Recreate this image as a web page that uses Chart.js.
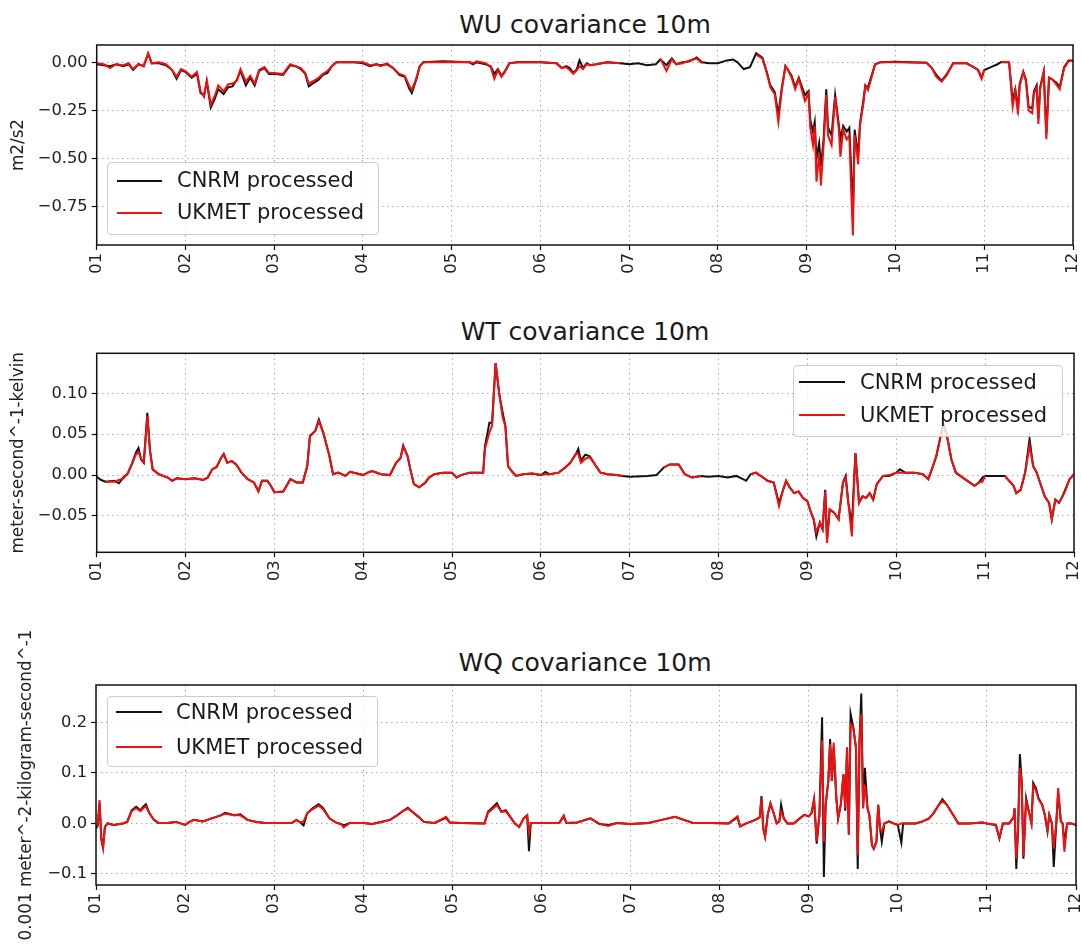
<!DOCTYPE html>
<html><head><meta charset="utf-8">
<script src="https://cdn.jsdelivr.net/npm/chart.js@4"></script>
<style>
html,body{margin:0;padding:0;background:#fff;}
body{width:1081px;height:946px;position:relative;overflow:hidden;font-family:'DejaVu Sans',sans-serif;}
.wrap{position:absolute;left:0;width:1081px;}
.title{position:absolute;font-size:25px;line-height:25px;color:#1a1a1a;white-space:nowrap;transform:translateX(-50%);}
.lgbox{position:absolute;border:1px solid #cccccc;border-radius:4px;background:rgba(255,255,255,0.8);box-sizing:border-box;}
.lgline{position:absolute;height:2px;}
.lgtext{position:absolute;font-size:21px;line-height:21px;color:#1a1a1a;white-space:nowrap;}
</style></head><body>
<div class="title" style="left:585px;top:12px;">WU covariance 10m</div>
<div class="title" style="left:585px;top:319px;">WT covariance 10m</div>
<div class="title" style="left:585px;top:650px;">WQ covariance 10m</div>
<div class="wrap" style="top:0;height:300px;"><canvas id="c1"></canvas></div>
<div class="wrap" style="top:300px;height:300px;"><canvas id="c2"></canvas></div>
<div class="wrap" style="top:600px;height:346px;"><canvas id="c3"></canvas></div>

<div class="lgbox" style="left:107px;top:162px;width:272px;height:73px;"></div>
<div class="lgline" style="left:117px;top:180px;width:45px;background:#111;"></div>
<div class="lgline" style="left:117px;top:212px;width:45px;background:#f01010;"></div>
<div class="lgtext" style="left:177px;top:169.5px;">CNRM processed</div>
<div class="lgtext" style="left:177px;top:202px;">UKMET processed</div>

<div class="lgbox" style="left:793px;top:365px;width:270px;height:72px;"></div>
<div class="lgline" style="left:799px;top:381px;width:46px;background:#111;"></div>
<div class="lgline" style="left:799px;top:414px;width:46px;background:#f01010;"></div>
<div class="lgtext" style="left:860px;top:371.5px;">CNRM processed</div>
<div class="lgtext" style="left:860px;top:405px;">UKMET processed</div>

<div class="lgbox" style="left:107px;top:696px;width:271px;height:71px;"></div>
<div class="lgline" style="left:116px;top:711px;width:46px;background:#111;"></div>
<div class="lgline" style="left:116px;top:746px;width:46px;background:#f01010;"></div>
<div class="lgtext" style="left:176px;top:702px;">CNRM processed</div>
<div class="lgtext" style="left:176px;top:737px;">UKMET processed</div>

<script>
// ---------- axis ticks ----------
const DAY_TICKS = [1,2,3,4,5,6,7,8,9,10,11,12];
const DAY_LABELS = ['01','02','03','04','05','06','07','08','09','10','11','12'];
const WU_TICKS = [0.00,-0.25,-0.50,-0.75];
const WU_LABELS = ['0.00','\u22120.25','\u22120.50','\u22120.75'];
const WT_TICKS = [0.10,0.05,0.00,-0.05];
const WT_LABELS = ['0.10','0.05','0.00','\u22120.05'];
const WQ_TICKS = [0.2,0.1,0.0,-0.1];
const WQ_LABELS = ['0.2','0.1','0.0','\u22120.1'];

// ---------- WU covariance ----------
const wuDays = [1.00,1.08,1.15,1.22,1.30,1.36,1.41,1.47,1.53,1.58,1.62,1.70,1.78,1.85,1.90,1.95,
2.00,2.07,2.13,2.17,2.21,2.24,2.285,2.33,2.37,2.43,2.48,2.53,2.58,2.62,2.68,2.73,2.78,2.83,2.89,2.94,
3.00,3.10,3.18,3.24,3.30,3.35,3.39,3.45,3.50,3.55,3.60,3.65,3.70,3.90,
4.00,4.08,4.15,4.20,4.27,4.34,4.41,4.47,4.52,4.55,4.60,4.64,4.68,4.90,
5.20,5.24,5.28,5.38,5.44,5.48,5.52,5.56,5.60,5.65,5.75,
6.00,6.18,6.24,6.29,6.33,6.37,6.41,6.44,6.48,6.52,6.56,6.63,6.75,6.90,
7.00,7.10,7.20,7.30,7.35,7.42,7.48,7.53,7.60,7.68,7.76,7.82,7.90,
8.00,8.10,8.17,8.22,8.29,8.36,8.43,8.50,8.55,8.59,8.64,8.68,8.72,8.76,8.79,8.83,8.87,8.91,8.94,8.98,
9.02,9.04,9.07,9.09,9.11,9.14,9.16,9.19,9.22,9.24,9.28,9.32,9.36,9.38,9.41,9.45,9.48,9.50,9.52,9.54,9.56,9.58,9.60,9.64,9.66,9.69,9.73,9.77,9.83,
10.00,10.35,10.41,10.46,10.52,10.58,10.65,10.80,10.88,10.93,10.97,
11.00,11.05,11.10,11.15,11.19,11.28,11.30,11.32,11.35,11.38,11.40,11.44,11.47,11.50,11.54,11.56,11.59,11.61,11.63,11.67,11.70,11.73,11.77,11.82,11.85,11.90,11.95,12.00];
const wuCNRM = [-0.010,-0.015,-0.020,-0.010,-0.020,-0.010,-0.040,-0.010,-0.020,0.045,-0.005,-0.005,-0.015,-0.040,-0.085,-0.040,
-0.050,-0.080,-0.060,-0.160,-0.170,-0.100,-0.235,-0.190,-0.140,-0.165,-0.130,-0.125,-0.090,-0.045,-0.120,-0.080,-0.120,-0.045,-0.030,-0.060,
-0.060,-0.065,-0.015,-0.020,-0.035,-0.060,-0.125,-0.105,-0.090,-0.065,-0.055,-0.020,0.000,0.000,
-0.005,-0.020,-0.010,-0.015,-0.010,-0.030,-0.065,-0.075,-0.135,-0.160,-0.090,-0.020,0.000,0.005,
0.000,-0.010,0.000,-0.010,-0.020,-0.060,-0.035,-0.070,-0.045,-0.005,0.002,
0.000,-0.005,-0.030,-0.020,-0.030,-0.055,-0.035,0.010,-0.030,-0.005,-0.015,-0.010,0.000,-0.005,
-0.010,-0.005,-0.015,-0.010,0.015,-0.015,0.020,-0.010,0.000,0.005,0.025,0.000,-0.005,
-0.005,0.010,0.015,0.000,-0.035,-0.025,0.047,0.025,-0.050,-0.120,-0.155,-0.270,-0.130,-0.020,-0.040,-0.070,-0.130,-0.080,-0.120,-0.170,
-0.150,-0.300,-0.360,-0.310,-0.500,-0.420,-0.540,-0.400,-0.140,-0.340,-0.380,-0.170,-0.320,-0.400,-0.330,-0.360,-0.340,-0.550,-0.800,-0.350,-0.420,-0.470,-0.320,-0.190,-0.120,-0.130,-0.070,-0.010,0.000,
0.003,-0.002,-0.030,-0.065,-0.095,-0.060,-0.005,-0.005,-0.025,-0.040,-0.080,
-0.040,-0.030,-0.020,-0.010,0.002,0.000,-0.100,-0.200,-0.140,-0.240,-0.110,-0.050,-0.090,-0.230,-0.240,-0.150,-0.120,-0.290,-0.130,-0.050,-0.370,-0.080,-0.090,-0.110,-0.130,-0.025,0.010,0.010];
const wuUKMET = [-0.005,-0.010,-0.030,-0.010,-0.015,-0.005,-0.035,-0.010,-0.020,0.047,-0.005,0.000,-0.010,-0.040,-0.075,-0.035,
-0.045,-0.075,-0.050,-0.150,-0.180,-0.095,-0.220,-0.175,-0.120,-0.150,-0.115,-0.110,-0.095,-0.035,-0.100,-0.070,-0.110,-0.040,-0.025,-0.055,
-0.055,-0.060,-0.010,-0.020,-0.030,-0.055,-0.110,-0.095,-0.080,-0.060,-0.045,-0.020,0.000,0.000,
0.000,-0.015,-0.010,-0.020,-0.005,-0.030,-0.060,-0.070,-0.120,-0.145,-0.085,-0.020,0.000,0.000,
0.002,-0.005,0.005,-0.005,-0.025,-0.085,-0.040,-0.075,-0.050,-0.005,0.000,
0.000,-0.005,-0.030,-0.025,-0.040,-0.060,-0.040,-0.020,-0.035,-0.010,-0.015,-0.010,0.000,-0.005,
null,null,null,null,0.020,-0.045,0.015,-0.010,-0.005,0.010,0.020,-0.005,null,
null,null,null,null,null,null,0.040,0.020,-0.055,-0.130,-0.165,-0.310,-0.140,-0.020,-0.040,-0.080,-0.140,-0.085,-0.135,-0.200,
-0.160,-0.340,-0.430,-0.330,-0.620,-0.470,-0.640,-0.430,-0.170,-0.380,-0.430,-0.180,-0.340,-0.490,-0.350,-0.400,-0.380,-0.650,-0.900,-0.380,-0.450,-0.530,-0.330,-0.210,-0.120,-0.145,-0.080,-0.010,0.000,
0.000,-0.002,-0.030,-0.075,-0.100,-0.065,-0.005,-0.005,-0.025,-0.040,-0.085,
-0.040,null,null,null,0.003,0.000,-0.110,-0.230,-0.150,-0.270,-0.120,-0.050,-0.100,-0.250,-0.265,-0.160,-0.130,-0.320,-0.140,-0.050,-0.400,-0.080,-0.090,-0.120,-0.140,-0.030,0.005,0.010];

// ---------- WT covariance ----------
const wtDays = [1.00,1.05,1.10,1.20,1.25,1.30,1.35,1.40,1.44,1.47,1.50,1.53,1.57,1.60,1.63,1.70,1.80,1.85,1.90,
2.00,2.10,2.20,2.25,2.30,2.35,2.40,2.43,2.47,2.52,2.57,2.63,2.70,2.77,2.82,2.86,2.92,2.96,
3.00,3.10,3.18,3.25,3.32,3.37,3.40,3.46,3.50,3.55,3.62,3.66,3.72,3.80,3.85,
4.00,4.05,4.10,4.20,4.30,4.37,4.42,4.45,4.50,4.53,4.57,4.63,4.70,4.74,4.80,4.90,
5.00,5.05,5.10,5.20,5.35,5.37,5.42,5.45,5.49,5.53,5.57,5.60,5.63,5.67,5.72,5.80,5.90,
6.00,6.05,6.10,6.20,6.27,6.33,6.40,6.42,6.45,6.50,6.55,6.62,6.67,6.75,6.85,6.92,
7.00,7.20,7.30,7.38,7.45,7.55,7.62,7.70,7.80,7.88,
8.00,8.10,8.20,8.31,8.36,8.42,8.50,8.55,8.62,8.68,8.72,8.76,8.80,8.85,8.90,8.95,
9.00,9.04,9.07,9.10,9.14,9.17,9.20,9.22,9.25,9.30,9.35,9.40,9.43,9.46,9.50,9.54,9.58,9.62,9.66,9.70,9.74,9.78,9.85,9.92,
10.00,10.04,10.10,10.20,10.30,10.36,10.40,10.45,10.50,10.53,10.57,10.62,10.67,10.72,10.80,10.88,10.93,10.97,
11.00,11.10,11.20,11.22,11.32,11.35,11.40,11.45,11.50,11.54,11.58,11.63,11.67,11.72,11.75,11.79,11.83,11.87,11.90,11.95,12.00];
const wtCNRM = [-0.002,-0.006,-0.008,-0.007,-0.010,-0.003,0.002,0.015,0.027,0.033,0.019,0.015,0.076,0.030,0.007,0.001,-0.003,-0.007,-0.004,
-0.005,-0.004,-0.006,-0.003,0.007,0.010,0.021,0.026,0.015,0.017,0.013,0.003,-0.005,-0.009,-0.020,-0.007,-0.007,-0.013,
-0.021,-0.020,-0.005,-0.009,-0.009,0.011,0.048,0.054,0.068,0.052,0.023,0.001,0.003,-0.001,0.004,
0.000,0.003,0.005,0.001,0.000,0.015,0.021,0.036,0.023,0.007,-0.011,-0.015,-0.009,-0.003,0.001,0.003,
0.003,-0.003,0.000,0.003,0.003,0.035,0.064,0.064,0.137,0.100,0.076,0.060,0.011,0.005,-0.001,0.001,0.002,
0.000,0.004,0.001,0.003,0.009,0.015,0.027,0.032,0.018,0.025,0.023,0.011,0.003,0.001,0.000,-0.001,
-0.002,-0.001,0.000,0.009,0.013,0.013,0.001,-0.003,-0.001,-0.002,
-0.001,-0.003,-0.001,-0.007,0.001,0.003,-0.003,-0.007,-0.009,-0.034,-0.020,-0.007,-0.015,-0.022,-0.020,-0.028,
-0.032,-0.046,-0.054,-0.075,-0.058,-0.066,-0.018,-0.079,-0.042,-0.046,-0.054,-0.009,-0.001,-0.034,-0.060,0.027,-0.034,-0.026,-0.028,-0.022,-0.030,-0.011,-0.001,-0.001,
0.003,0.007,0.003,0.003,0.001,-0.005,0.007,0.023,0.048,0.062,0.048,0.019,0.003,-0.001,-0.007,-0.013,-0.009,-0.003,
-0.001,-0.001,-0.001,-0.001,-0.013,-0.022,-0.018,0.003,0.044,0.011,0.003,-0.013,-0.026,-0.034,-0.054,-0.030,-0.034,-0.026,-0.018,-0.005,0.001];
const wtUKMET = [null,null,-0.008,-0.008,-0.006,-0.004,0.002,0.014,0.025,0.028,0.020,0.016,0.072,0.030,0.007,0.001,-0.003,-0.007,-0.004,
-0.005,-0.004,-0.006,-0.003,0.007,0.010,0.021,0.025,0.015,0.017,0.013,0.003,-0.005,-0.009,-0.020,-0.007,-0.007,-0.013,
-0.021,-0.020,-0.005,-0.009,-0.009,0.011,0.047,0.054,0.066,0.052,0.023,0.001,0.003,-0.001,0.004,
0.000,0.003,0.005,0.001,0.000,0.015,0.021,0.035,0.023,0.007,-0.011,-0.015,-0.009,-0.003,0.001,0.003,
0.003,-0.003,0.000,0.003,0.003,0.032,0.052,0.060,0.137,0.100,0.070,0.060,0.011,0.005,-0.001,0.001,0.002,
0.000,0.001,0.001,0.003,0.009,0.015,0.027,0.026,0.015,0.020,0.022,0.011,0.003,0.001,0.000,-0.001,
null,null,null,0.009,0.013,0.013,0.001,-0.003,-0.001,null,
null,null,null,null,0.001,0.003,-0.003,-0.007,-0.009,-0.038,-0.020,-0.007,-0.015,-0.022,-0.020,-0.028,
-0.032,-0.046,-0.054,-0.070,-0.058,-0.066,-0.020,-0.083,-0.042,-0.046,-0.054,-0.009,-0.003,-0.034,-0.075,0.027,-0.034,-0.026,-0.028,-0.022,-0.030,-0.011,-0.001,0.000,
0.003,0.003,0.003,0.003,0.001,-0.005,0.007,0.023,0.048,0.064,0.048,0.019,0.003,-0.001,-0.007,-0.013,-0.009,-0.008,
-0.001,null,null,-0.001,-0.013,-0.022,-0.018,0.003,0.036,0.011,0.003,-0.013,-0.026,-0.034,-0.054,-0.030,-0.034,-0.026,-0.020,-0.005,0.001];

// ---------- WQ covariance ----------
const wqDays = [1.00,1.02,1.04,1.06,1.08,1.10,1.13,1.20,1.30,1.35,1.40,1.45,1.50,1.53,1.56,1.60,1.65,1.70,1.80,1.90,
2.00,2.05,2.10,2.20,2.30,2.40,2.45,2.55,2.62,2.70,2.80,2.90,
3.20,3.25,3.30,3.33,3.37,3.43,3.50,3.55,3.62,3.70,3.75,3.78,3.85,
4.00,4.10,4.20,4.30,4.38,4.45,4.50,4.55,4.62,4.68,4.80,4.93,4.97,
5.10,5.36,5.40,5.50,5.55,5.60,5.65,5.70,5.75,5.80,5.84,5.86,5.88,
6.20,6.25,6.28,6.40,6.55,6.65,6.75,6.85,
7.00,7.20,7.35,7.50,7.60,7.70,7.90,
8.10,8.20,8.23,8.30,8.40,8.45,8.47,8.49,8.51,8.54,8.57,8.60,8.64,8.67,8.69,8.72,8.76,8.83,8.90,8.95,
9.00,9.03,9.06,9.09,9.12,9.15,9.17,9.19,9.22,9.24,9.26,9.28,9.31,9.33,9.36,9.39,9.41,9.43,9.45,9.47,9.50,9.53,9.55,9.57,9.59,9.61,9.63,9.66,9.68,9.71,9.73,9.76,9.78,9.80,9.82,9.85,9.90,9.95,
10.00,10.04,10.06,10.20,10.28,10.35,10.40,10.45,10.50,10.55,10.62,10.68,10.80,10.95,
11.00,11.10,11.14,11.18,11.25,11.30,11.31,11.33,11.35,11.37,11.39,11.41,11.44,11.47,11.50,11.52,11.55,11.58,11.62,11.65,11.68,11.70,11.73,11.75,11.78,11.80,11.83,11.85,11.87,11.90,11.95,12.00];
const wqCNRM = [-0.010,-0.004,0.040,-0.030,-0.045,-0.007,0.000,-0.003,0.000,0.003,0.026,0.033,0.026,0.033,0.038,0.020,0.007,0.001,0.001,0.003,
-0.003,0.003,0.007,0.004,0.010,0.016,0.021,0.016,0.018,0.007,0.003,0.001,
0.001,0.007,0.001,-0.004,0.020,0.030,0.038,0.030,0.010,0.001,-0.001,-0.004,0.001,
0.001,-0.001,0.003,0.007,0.016,0.025,0.031,0.023,0.013,0.003,0.001,0.011,0.002,
0.001,0.000,0.023,0.040,0.023,0.026,0.013,0.000,-0.007,0.010,0.016,-0.055,0.001,
0.001,0.014,0.001,0.002,0.010,-0.001,-0.003,0.001,
-0.001,0.001,0.007,0.013,0.007,0.001,0.001,
0.000,0.012,-0.006,0.000,0.007,0.012,0.054,-0.010,-0.026,0.017,0.040,0.024,0.000,0.004,0.037,0.010,0.000,0.000,0.010,0.017,
0.014,0.020,0.045,-0.040,0.017,0.210,-0.106,0.037,0.084,0.167,0.084,0.150,0.050,0.010,0.037,0.097,0.025,0.150,-0.020,0.217,0.190,0.150,-0.090,0.164,0.257,0.030,0.110,0.030,0.017,-0.043,-0.050,-0.036,0.037,-0.010,-0.036,0.000,0.004,0.000,
-0.003,-0.038,0.000,0.000,0.004,0.010,0.020,0.034,0.048,0.037,0.017,0.000,0.000,0.002,
0.000,-0.003,-0.030,0.000,0.000,0.012,0.030,-0.090,-0.010,0.137,0.084,-0.070,0.050,0.024,0.000,0.080,0.070,0.050,0.037,0.017,-0.016,0.017,0.000,-0.086,0.004,0.060,0.004,0.000,-0.040,0.000,0.000,-0.003];
const wqUKMET = [-0.005,-0.002,0.046,-0.033,-0.050,-0.007,0.000,-0.003,0.000,0.003,0.024,0.030,0.024,0.030,0.034,0.020,0.007,0.001,0.001,0.003,
-0.003,0.003,0.007,0.004,0.010,0.016,0.019,0.016,0.016,0.007,0.003,0.001,
0.001,0.007,0.002,0.004,0.020,0.028,0.035,0.028,0.010,0.001,-0.001,-0.008,0.001,
0.001,-0.001,0.003,0.007,0.016,0.025,0.029,0.023,0.013,0.003,0.001,0.013,0.002,
0.001,0.000,0.021,0.036,0.023,0.024,0.013,0.000,-0.007,0.010,0.016,-0.020,0.001,
0.001,0.016,0.001,0.002,0.010,-0.001,-0.005,0.001,
-0.001,0.001,0.007,0.013,0.007,0.001,0.001,
0.000,0.014,-0.006,0.000,0.007,0.012,0.050,-0.010,-0.026,0.017,0.038,0.024,0.000,0.004,0.024,0.010,0.000,0.000,0.010,0.017,
0.014,0.020,0.050,-0.035,0.017,0.164,-0.036,0.037,0.084,0.157,0.084,0.160,0.050,0.010,0.037,0.097,0.030,0.150,-0.023,0.197,0.190,0.150,-0.063,0.164,0.217,0.030,0.077,0.030,0.017,-0.043,-0.050,-0.036,0.037,-0.010,-0.016,0.000,0.004,0.000,
-0.003,0.000,0.000,0.000,0.004,0.010,0.020,0.034,0.044,0.037,0.017,0.000,0.000,0.002,
0.000,-0.003,-0.028,0.000,0.000,0.012,0.030,-0.070,-0.010,0.110,0.084,-0.065,0.045,0.024,0.000,0.075,0.065,0.047,0.037,0.017,-0.013,0.017,0.000,-0.050,0.004,0.070,0.004,0.000,-0.056,0.000,0.000,-0.003];

// ---------- drawing ----------
const FONT = "'DejaVu Sans', sans-serif";
const TXT = '#222222';
function pts(days, vals){ return days.map((d,i)=>({x:d, y: vals[i] === undefined ? null : vals[i]})); }

const framePlugin = {
  id:'frame',
  afterDatasetsDraw(chart){
    const {ctx, chartArea:a} = chart;
    ctx.save(); ctx.setLineDash([]); ctx.strokeStyle='#111'; ctx.lineWidth=1.5;
    ctx.strokeRect(a.left, a.top, a.right-a.left, a.bottom-a.top); ctx.restore();
  }
};

function gridOpts(){
  return {color:'#ababab', lineWidth:1, drawTicks:true, tickLength:5, tickColor:'#111', tickWidth:1.2, tickBorderDash:[]};
}

function makeChart(id, p){
  return new Chart(document.getElementById(id), {
    type:'line',
    data:{datasets:[
      {label:'UKMET processed', data:pts(p.days,p.ukmet), borderColor:'#f01010', backgroundColor:'#f01010', borderWidth:2, pointRadius:0, tension:0, spanGaps:false, order:0},
      {label:'CNRM processed', data:pts(p.days,p.cnrm), borderColor:'#111111', backgroundColor:'#111111', borderWidth:2, pointRadius:0, tension:0, spanGaps:false, order:1}
    ]},
    options:{
      responsive:true, maintainAspectRatio:false, animation:false, devicePixelRatio:1,
      layout:{padding:{top:p.padTop, left:0, right:p.padRight, bottom:0}},
      plugins:{legend:{display:false}, title:{display:false}, tooltip:{enabled:false}},
      scales:{
        x:{type:'linear', min:1, max:12,
          afterBuildTicks:s=>{ s.ticks = DAY_TICKS.map(v=>({value:v})); },
          afterFit:s=>{ s.height=p.bottomH; s.paddingLeft=0; s.paddingRight=0; },
          ticks:{autoSkip:false, minRotation:90, maxRotation:90, padding:3, color:TXT, font:{family:FONT, size:16.3},
            callback:v=>DAY_LABELS[DAY_TICKS.indexOf(v)]},
          grid:gridOpts(), border:{display:false, dash:[1.5,3.5]}},
        y:{type:'linear', min:p.yMin, max:p.yMax,
          afterBuildTicks:s=>{ s.ticks = p.yTicks.map(v=>({value:v})); },
          afterFit:s=>{ s.width=p.leftW; s.paddingTop=0; s.paddingBottom=0; },
          ticks:{padding:4, color:TXT, font:{family:FONT, size:16.3},
            callback:v=>p.yLabels[p.yTicks.indexOf(v)]},
          title:{display:true, text:p.yTitle, color:TXT, font:{family:FONT, size:16.8}, padding:{top:p.titlePad, bottom:0}},
          grid:gridOpts(), border:{display:false, dash:[1.5,3.5]}}
      }
    },
    plugins:[framePlugin]
  });
}

makeChart('c1', {days:wuDays, cnrm:wuCNRM, ukmet:wuUKMET, yMin:-0.9494, yMax:0.0901, yTicks:WU_TICKS, yLabels:WU_LABELS,
  yTitle:'m2/s2', padTop:45, padRight:8, bottomH:55, leftW:96.7, titlePad:8.4});
makeChart('c2', {days:wtDays, cnrm:wtCNRM, ukmet:wtUKMET, yMin:-0.0944, yMax:0.1489, yTicks:WT_TICKS, yLabels:WT_LABELS,
  yTitle:'meter-second^-1-kelvin', padTop:53.3, padRight:7, bottomH:47.7, leftW:96.7, titlePad:8.9});
makeChart('c3', {days:wqDays, cnrm:wqCNRM, ukmet:wqUKMET, yMin:-0.1218, yMax:0.2738, yTicks:WQ_TICKS, yLabels:WQ_LABELS,
  yTitle:'0.001 meter^-2-kilogram-second^-1', padTop:85, padRight:5, bottomH:61, leftW:96, titlePad:17});
</script>
</body></html>
